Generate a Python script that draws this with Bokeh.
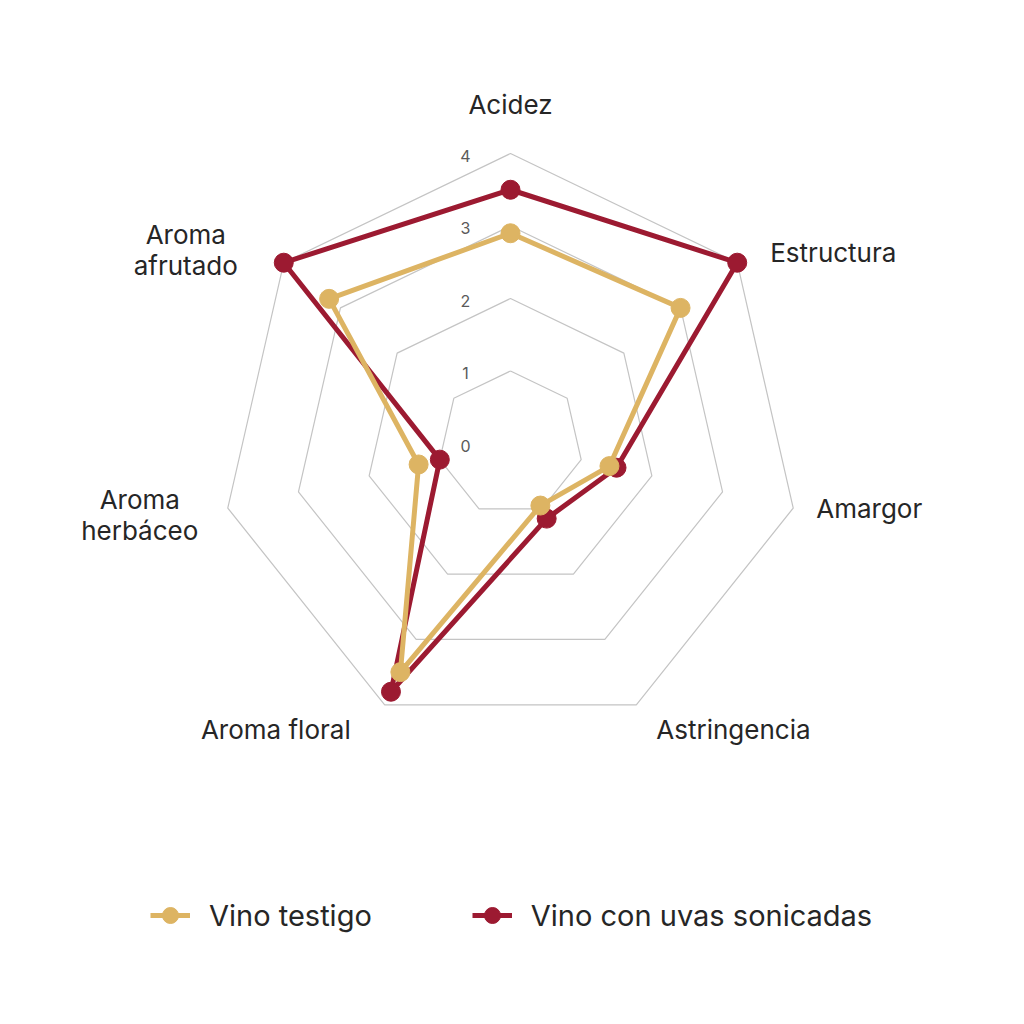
import numpy as np
from bokeh.plotting import figure
from bokeh.models import Range1d, Legend, LegendItem, ColumnDataSource
from bokeh.core.properties import value
from bokeh.embed import file_html
from bokeh.resources import INLINE

# ---- data ----
categories = ["Acidez", "Estructura", "Amargor", "Astringencia",
              "Aroma floral", "Aroma\nherbáceo", "Aroma\nafrutado"]
testigo = [2.9, 3.0, 1.4, 0.95, 3.5, 1.3, 3.2]
sonicadas = [3.5, 4.0, 1.5, 1.15, 3.8, 1.0, 4.0]
ring_values = [1, 2, 3, 4]
tick_labels = ["0", "1", "2", "3", "4"]
series_names = ["Vino testigo", "Vino con uvas sonicadas"]

# ---- style ----
YELLOW = "#DDB463"
RED = "#9C1A31"
GRID = "#c4c4c4"
TXT = "#262626"
FONT = "Inter"

W = H = 1000
U = 72.5          # pixels per unit
CX, CY = 510, 443  # center in figure pixels

n = len(categories)
ang = np.pi / 2 - 2 * np.pi * np.arange(n) / n
cosA, sinA = np.cos(ang), np.sin(ang)

p = figure(width=W, height=H, output_backend="svg", toolbar_location=None,
           x_range=Range1d(-CX / U, (W - CX) / U),
           y_range=Range1d(-(H - CY) / U, CY / U),
           x_axis_location=None, y_axis_location=None,
           min_border=0, outline_line_color=None)
p.grid.visible = False
p.background_fill_color = "white"
p.border_fill_color = "white"

# grid rings
for rv in ring_values:
    xs = list(rv * cosA) + [rv * cosA[0]]
    ys = list(rv * sinA) + [rv * sinA[0]]
    p.line(xs, ys, line_color=GRID, line_width=1.2)

# tick labels along the first axis
p.text(x=[0] * len(tick_labels), y=[float(t) for t in tick_labels], text=tick_labels,
       text_font=value(FONT), text_font_size="16px", text_color="#5a5a5a",
       text_align="center", text_baseline="middle", x_offset=-45, y_offset=2)

# series
def series(vals, color):
    v = np.array(vals)
    xs = v * cosA
    ys = v * sinA
    src = ColumnDataSource(dict(x=list(xs) + [xs[0]], y=list(ys) + [ys[0]]))
    ln = p.line("x", "y", source=src, line_color=color, line_width=5)
    sc = p.scatter(xs, ys, size=19, fill_color=color, line_color=color)
    return ln, sc

r_ln, r_sc = series(sonicadas, RED)
y_ln, y_sc = series(testigo, YELLOW)

# category labels (anchored at the outer vertex, shifted in screen px)
layout = [  # align, dx, dy
    ("center", 0, -49),
    ("left", 33, -10),
    ("left", 23, 0),
    ("left", 20, 25),
    ("right", -34, 25),
    ("center", -88, 7),
    ("center", -98, -13),
]
R = max(ring_values)
for i, cat in enumerate(categories):
    al, dx, dy = layout[i]
    p.text(x=[R * cosA[i]], y=[R * sinA[i]], text=[cat],
           text_font=value(FONT), text_font_size="26px", text_color=TXT,
           text_align=al, text_baseline="middle", x_offset=dx, y_offset=dy,
           text_line_height=1.0)

legend = Legend(items=[LegendItem(label=series_names[0], renderers=[y_ln, y_sc]),
                       LegendItem(label=series_names[1], renderers=[r_ln, r_sc])],
                orientation="horizontal", location=(150, 65),
                border_line_color=None, background_fill_alpha=0,
                padding=0, margin=0, spacing=100,
                glyph_width=40, glyph_height=40, label_standoff=19,
                label_text_font=FONT, label_text_font_size="29px",
                label_text_color=TXT, label_height=40)
p.add_layout(legend, "center")

open("out.html", "w").write(file_html(p, INLINE))
